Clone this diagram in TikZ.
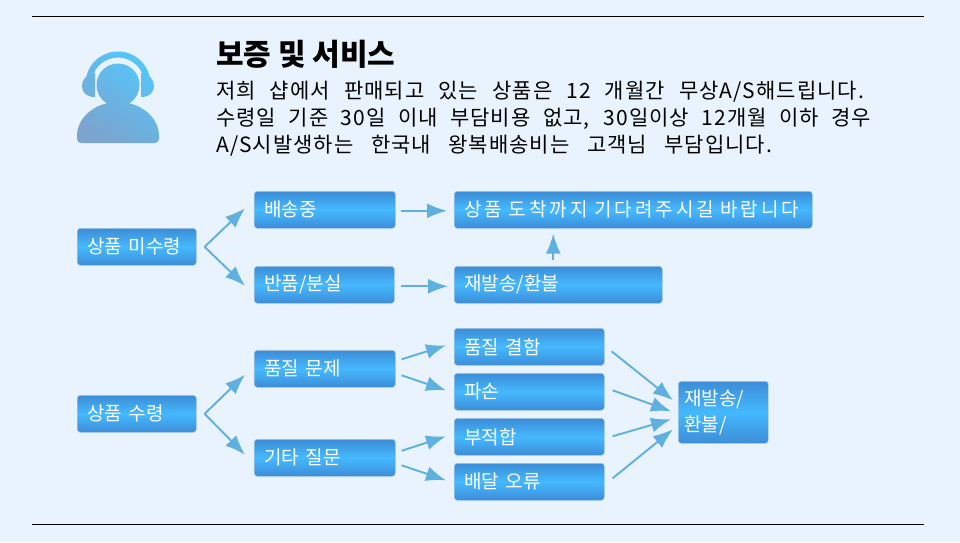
\documentclass[tikz,border=0pt]{standalone}
\usepackage{fontspec}
\setmainfont{Noto Sans CJK KR}
\usetikzlibrary{arrows.meta,calc}
\definecolor{pagetint}{HTML}{E8F3FE}
\definecolor{boxdark}{HTML}{3C8DD6}
\definecolor{boxlight}{HTML}{45B9FF}
\definecolor{boxline}{HTML}{A3C6E6}
\definecolor{flowblue}{HTML}{5FB0DE}
\definecolor{figurelow}{HTML}{7BA4CE}
\definecolor{figurehigh}{HTML}{55C6FA}
\tikzset{flow edge/.style={-{Latex[length=20pt,width=15pt]}, line width=1.9pt, draw=flowblue}}
\tikzset{flow box/.style={anchor=north west, rectangle, rounded corners=3pt, draw=boxline, line width=0.6pt, top color=boxdark, bottom color=boxdark, middle color=boxlight, text=white, align=left, font=\fontsize{19}{26}\selectfont, inner xsep=10pt, inner ysep=0pt, minimum height=37pt, text width=#1}}
\tikzset{page rule/.style={draw=black, line width=0.8pt}}
\begin{document}
\begin{tikzpicture}[x=1pt,y=-1pt]
		\useasboundingbox (0,0) rectangle (960,542);
		\fill[pagetint] (0,0) rectangle (960,542);

		\coordinate (ruleTL) at (32,16);
		\coordinate (ruleTR) at (924,16);
		\coordinate (ruleBL) at (32,524);
		\coordinate (ruleBR) at (924,524);
		\draw[page rule] (ruleTL)--(ruleTR);
		\draw[page rule] (ruleBL)--(ruleBR);

		% headset figure
		\shade[left color=figurehigh, right color=figurelow, shading angle=-35]
			(139.5,85) arc[start angle=0,end angle=-360,radius=21.5pt] -- cycle
			(77,139) -- (77,136) arc[start angle=180,end angle=0,x radius=41pt,y radius=34pt] -- (159,139)
				arc[start angle=0,end angle=-90,radius=4pt] -- (81,143) arc[start angle=270,end angle=180,radius=4pt] -- cycle
			(85.5,84) arc[start angle=180,end angle=0,radius=32.5pt] -- (144.5,84) arc[start angle=0,end angle=180,radius=26.5pt] -- cycle
			(95,97) .. controls (87,97) and (82,93) .. (82,86) .. controls (82,80) and (86,74) .. (95,73) -- cycle
			(141,73) .. controls (150,74) and (154,80) .. (154,86) .. controls (154,93) and (149,97) .. (141,97) -- cycle;

		\node[anchor=west, inner sep=0pt, font=\fontsize{30}{34}\selectfont\bfseries] (title) at (216,54) {보증 및 서비스};
		\node[anchor=north west, inner sep=0pt, align=left, font=\fontsize{21}{27.2}\selectfont\addfontfeature{LetterSpace=5}] (notice) at (216,81)
			{\makebox[648pt][s]{저희 샵에서 판매되고 있는 상품은 12 개월간 무상A/S해드립니다.}\\
			 \makebox[655pt][s]{수령일 기준 30일 이내 부담비용 없고, 30일이상 12개월 이하 경우}\\
			 \makebox[556pt][s]{A/S시발생하는 한국내 왕복배송비는 고객님 부담입니다.}};

		\node[flow box=99pt] (unreceived) at (77,228) {상품 미수령};
		\node[flow box=121pt] (shipping) at (254,191) {배송중};
		\node[flow box=120pt] (lost) at (254,266) {반품/분실};
		\node[flow box=338pt] (wait) at (454,191) {\addfontfeature{LetterSpace=16}상품 도착까지 기다려주시길 바랍니다};
		\node[flow box=188pt] (resend) at (454,266) {재발송/환불};

		\node[flow box=99pt] (received) at (77,395) {상품 수령};
		\node[flow box=121pt] (quality) at (254,350) {품질 문제};
		\node[flow box=121pt] (other) at (254,439) {기타 질문};
		\node[flow box=130pt] (defect) at (454,328) {품질 결함};
		\node[flow box=130pt] (broken) at (454,373) {파손};
		\node[flow box=130pt] (unfit) at (454,418) {부적합};
		\node[flow box=130pt] (misdeliv) at (454,463) {배달 오류};
		\node[flow box=78pt, minimum height=62pt, inner xsep=6pt] (refund) at (678,381) {재발송/\\환불/};

		\coordinate (unreceivedFork) at ($(unreceived.east)+(8,0)$);
		\coordinate (receivedFork) at ($(received.east)+(8,0)$);
		\draw[flow edge] (unreceivedFork) -- ($(shipping.west)+(-9,-1.5)$);
		\draw[flow edge] (unreceivedFork) -- ($(lost.west)+(-9,1)$);
		\draw[flow edge] ($(shipping.east)+(5,1)$) -- ($(wait.west)+(-7,1)$);
		\draw[flow edge] ($(lost.east)+(6,1.5)$) -- ($(resend.west)+(-6,1.5)$);
		\draw[flow edge] ($(resend.north)+(-5,-6)$) -- ($(wait.south)+(-80,5)$);

		\draw[flow edge] (receivedFork) -- ($(quality.west)+(-9,6)$);
		\draw[flow edge] (receivedFork) -- ($(other.west)+(-9,-3)$);
		\draw[flow edge] ($(quality.east)+(6,-9.5)$) -- ($(defect.west)+(-8,-1.5)$);
		\draw[flow edge] ($(quality.east)+(6,6.5)$) -- ($(broken.west)+(-8,-1.5)$);
		\draw[flow edge] ($(other.east)+(6,-7)$) -- ($(unfit.west)+(-8,-0.5)$);
		\draw[flow edge] ($(other.east)+(6,7.5)$) -- ($(misdeliv.west)+(-8,-1.5)$);
		\draw[flow edge] ($(defect.east)+(7,4.5)$) -- ($(refund.west)+(-5,-12)$);
		\draw[flow edge] ($(broken.east)+(8,-1.5)$) -- ($(refund.west)+(-7,-1)$);
		\draw[flow edge] ($(unfit.east)+(8,-0.5)$) -- ($(refund.west)+(-7,7)$);
		\draw[flow edge] ($(misdeliv.east)+(8,-3.5)$) -- ($(refund.west)+(-5,17)$);
	\end{tikzpicture}
\end{document}
